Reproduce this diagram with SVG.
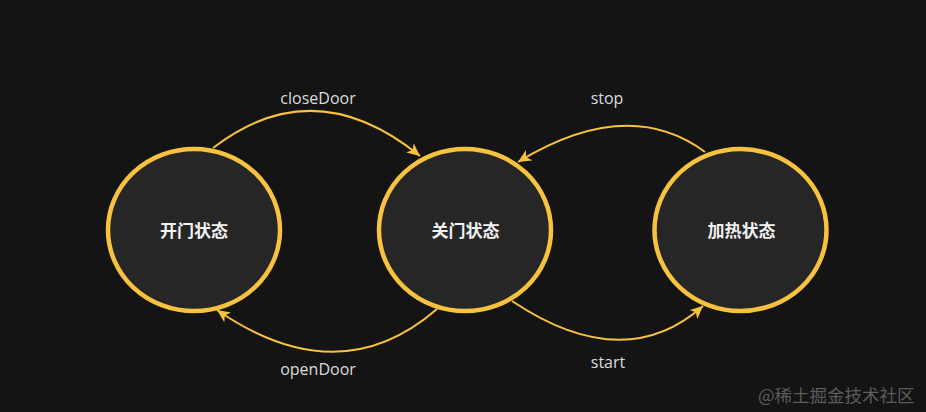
<svg xmlns="http://www.w3.org/2000/svg" width="926" height="412" viewBox="0 0 926 412">
<style>
.bg{fill:#141414}
.node{fill:#262626;stroke:#f7c23e;stroke-width:4.5}
.nlabel{font-family:"Noto Sans CJK SC","Noto Sans",sans-serif;font-size:17px;font-weight:bold;fill:#f2f2f2;text-anchor:middle}
.edge{fill:none;stroke:#f7c23e;stroke-width:2}
.elabel{font-family:"Open Sans","Noto Sans",sans-serif;font-size:16px;fill:#dcdcdc;text-anchor:middle}
.wm{font-family:"Noto Sans CJK SC",sans-serif;font-size:17.5px;fill:#5c5c5c}
</style>
<defs>
<marker id="arr" markerWidth="14" markerHeight="12" refX="13" refY="6" orient="auto" markerUnits="userSpaceOnUse">
<path d="M0,0 L13,6 L0,12 L3.5,6 Z" fill="#f7c23e"/>
</marker>
</defs>
<rect class="bg" x="0" y="0" width="926" height="412"/>
<g id="edges">
<g id="e-closeDoor"><path class="edge" d="M213,148 Q314,70 420,156" marker-end="url(#arr)"/><text class="elabel" x="318" y="104">closeDoor</text></g>
<g id="e-openDoor"><path class="edge" d="M437,309 Q339,394 217,310" marker-end="url(#arr)"/><text class="elabel" x="318" y="375">openDoor</text></g>
<g id="e-stop"><path class="edge" d="M705,152 Q628,95 518,162" marker-end="url(#arr)"/><text class="elabel" x="607" y="104">stop</text></g>
<g id="e-start"><path class="edge" d="M512,301 Q624,376 703,306" marker-end="url(#arr)"/><text class="elabel" x="608" y="368">start</text></g>
</g>
<g id="n-open"><ellipse class="node" cx="194" cy="230" rx="86" ry="81"/><text class="nlabel" x="194" y="236.5">开门状态</text></g>
<g id="n-close"><ellipse class="node" cx="465" cy="230" rx="86" ry="81"/><text class="nlabel" x="465.5" y="236.5">关门状态</text></g>
<g id="n-heat"><ellipse class="node" cx="740.5" cy="230" rx="86" ry="81"/><text class="nlabel" x="741.5" y="236.5">加热状态</text></g>
<text class="wm" x="758" y="402">@稀土掘金技术社区</text>
</svg>
